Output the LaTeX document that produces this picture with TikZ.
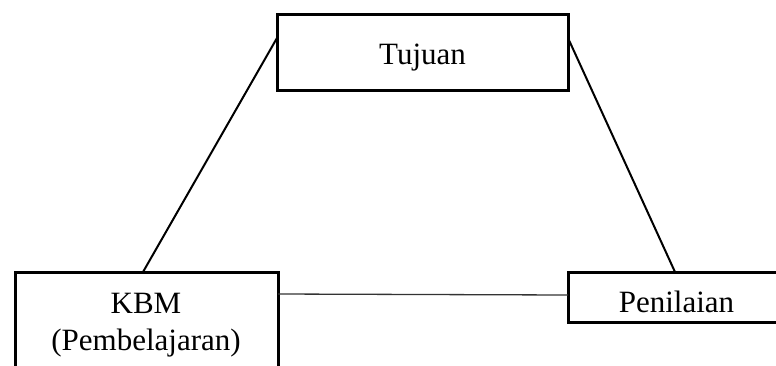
\documentclass[tikz,border=0pt]{standalone}
\usepackage{fontspec}
\setmainfont{Liberation Serif}
\begin{document}
\begin{tikzpicture}[x=1pt,y=-1pt,
  box/.style={draw, line width=3pt, rectangle, inner sep=0pt, outer sep=0pt},
  lbl/.style={anchor=base, inner sep=0pt, font=\fontsize{31}{37}\selectfont},
  link/.style={line width=2pt}]
\useasboundingbox (0,0) rectangle (776,365);
\clip (0,0) rectangle (776,365);
\node[box, minimum width=291pt, minimum height=76pt] (tuj) at (422.5,52) {};
\node[box, minimum width=263pt, minimum height=130pt] (kbm) at (146.5,337) {};
\node[box, minimum width=217pt, minimum height=50pt] (pen) at (676.5,297) {};
\node[lbl] (tujt) at (422.5,64) {Tujuan};
\node[lbl] (kbmt) at (146,313) {KBM};
\node[lbl] (kbmt2) at (146,350) {(Pembelajaran)};
\node[lbl] (pent) at (676.5,312) {Penilaian};
\draw[link] ([xshift=128pt]kbm.north west) -- ([yshift=-24pt]tuj.north west);
\draw[link] ([yshift=-24pt]tuj.north east) -- ([xshift=107pt]pen.north west);
\draw[line width=1.3pt, black!80] ([yshift=-22pt]kbm.north east) -- ([yshift=-23pt]pen.north west);
\end{tikzpicture}
\end{document}
